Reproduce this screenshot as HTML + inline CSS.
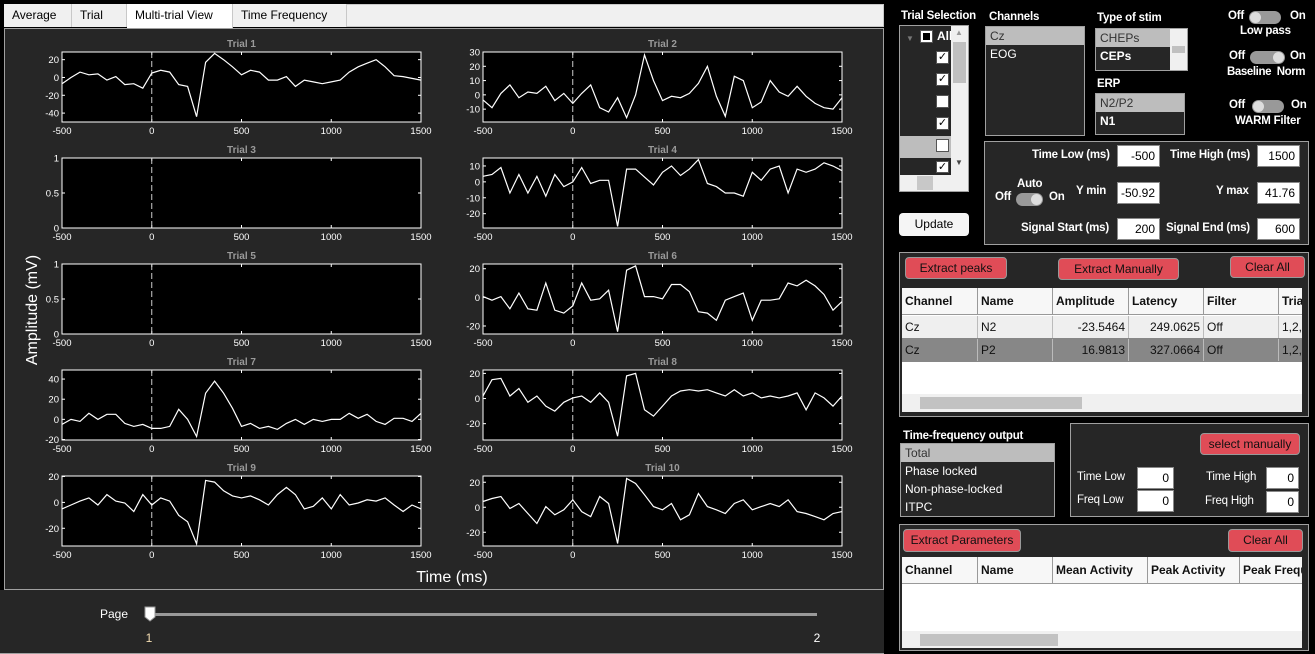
<!DOCTYPE html>
<html><head><meta charset="utf-8">
<style>
*{box-sizing:border-box;margin:0;padding:0}
body{width:1315px;height:654px;background:#000;position:relative;overflow:hidden;font-family:"Liberation Sans",Arial,sans-serif;font-size:12px;color:#fff}
.a{position:absolute}
.tab{position:absolute;top:4px;height:23px;background:#f0f0f0;border-right:1px solid #c8c8c8;color:#000;font-size:12px;line-height:23px;padding-left:8px}
.lb{position:absolute;background:#262626;border:1px solid #a0a0a0;overflow:hidden}
.row{position:absolute;left:0;right:0;height:18px;line-height:18px;padding-left:4px;font-size:12px;white-space:nowrap}
.sel{background:#bdbdbd;color:#333}
.lab{position:absolute;font-weight:bold;font-size:11.5px;color:#fff;white-space:nowrap;letter-spacing:-0.2px}
.tg{position:absolute;height:13px;border-radius:7px;background:#999}
.tg i{position:absolute;top:1px;width:11px;height:11px;border-radius:6px;background:#ddd}
.box{position:absolute;border:1px solid #a0a0a0;background:#262626}
.inp{position:absolute;background:#fff;color:#000;border:1px solid #888;text-align:right;padding-right:4px;font-size:12px;line-height:20px;height:22px}
.btn{position:absolute;background:#e04c57;color:#111;border:1px solid #999;border-radius:4px;text-align:center;font-size:12px;line-height:20px;white-space:nowrap}
.tbl{position:absolute;background:#fff;color:#111;overflow:hidden}
.th{position:absolute;top:0;height:27px;line-height:27px;background:#f7f7f7;border-right:1px solid #999;border-bottom:1px solid #999;padding-left:3px;font-weight:bold;font-size:12px;white-space:nowrap;overflow:hidden}
.td{position:absolute;height:22px;line-height:22px;border-right:1px solid #bbb;font-size:12px;padding:0 3px;white-space:nowrap;overflow:hidden}
.cb{position:absolute;width:13px;height:13px;background:#fff;border:1px solid #555;color:#000;font-size:11px;line-height:11px;text-align:center}
</style></head><body>
<div class="a" style="left:4px;top:4px;width:880px;height:23px;background:#f0f0f0;border:1px solid #c8c8c8"></div>
<div class="tab" style="left:4px;width:68px">Average</div>
<div class="tab" style="left:72px;width:55px">Trial</div>
<div class="tab" style="left:127px;width:106px;background:#fff;height:25px">Multi-trial View</div>
<div class="tab" style="left:233px;width:114px">Time Frequency</div>
<div class="a" style="left:4px;top:28px;width:880px;height:562px;background:#262626;border:1px solid #a0a0a0"></div>
<div class="a" style="left:0;top:590px;width:884px;height:64px;background:#262626;border-bottom:1px solid #a0a0a0"></div>

<svg class="a" style="left:0;top:0" width="884" height="654" id="chart" font-family="Liberation Sans, Arial, sans-serif">
<text x="37" y="310" fill="#fff" font-size="16" text-anchor="middle" transform="rotate(-90 37 310)">Amplitude (mV)</text>
<text x="452" y="582" fill="#fff" font-size="16" text-anchor="middle">Time (ms)</text>
<text x="114" y="618" fill="#fff" font-size="12" text-anchor="middle">Page</text>
<rect x="150" y="613" width="667" height="3" fill="#999"/>
<path d="M145 607 H155 V617 L150 621 L145 617 Z" fill="#fff" stroke="#999"/>
<text x="149" y="642" fill="#f5deb3" font-size="12" text-anchor="middle">1</text>
<text x="817" y="642" fill="#fff" font-size="12" text-anchor="middle">2</text>
</svg>

<div class="lab" style="left:901px;top:10px">Trial Selection</div>
<div class="lb" style="left:899px;top:25px;width:70px;height:167px">
  <div class="a" style="left:0;top:110px;width:52px;height:22px;background:#bdbdbd"></div>
  <div class="a" style="left:6px;top:8px;color:#777;font-size:8px">▼</div>
  <div class="a" style="left:20px;top:4px;width:13px;height:13px;background:#fff;border:1px solid #555"><div style="margin:2px;width:7px;height:7px;background:#000"></div></div>
  <div class="a" style="left:37px;top:3px;font-weight:bold">All</div>
</div>
<div class="a" style="left:951px;top:26px;width:17px;height:149px;background:#f0f0f0"></div>
<div class="a" style="left:953px;top:42px;width:13px;height:41px;background:#c0c0c0"></div>
<div class="a" style="left:955px;top:28px;color:#999;font-size:8px">▲</div>
<div class="a" style="left:955px;top:158px;color:#444;font-size:8px">▼</div>
<div class="a" style="left:900px;top:175px;width:68px;height:16px;background:#f0f0f0"></div>
<div class="a" style="left:917px;top:176px;width:16px;height:14px;background:#c8c8c8"></div>
<div class="cb" style="left:936px;top:51px">✓</div>
<div class="cb" style="left:936px;top:73px">✓</div>
<div class="cb" style="left:936px;top:95px"></div>
<div class="cb" style="left:936px;top:117px">✓</div>
<div class="cb" style="left:936px;top:139px"></div>
<div class="cb" style="left:936px;top:161px;height:12px">✓</div>
<div class="a" style="left:899px;top:213px;width:70px;height:23px;background:#f5f5f5;color:#000;border-radius:4px;text-align:center;line-height:23px">Update</div>

<div class="lab" style="left:989px;top:11px">Channels</div>
<div class="lb" style="left:985px;top:26px;width:100px;height:110px">
  <div class="row sel" style="top:0">Cz</div><div class="row" style="top:18px">EOG</div></div>

<div class="lab" style="left:1097px;top:12px">Type of stim</div>
<div class="lb" style="left:1095px;top:28px;width:93px;height:43px">
  <div class="row sel" style="top:0;right:17px">CHEPs</div><div class="row" style="top:18px;right:17px;font-weight:bold">CEPs</div>
  <div class="a" style="right:0;top:0;width:17px;height:43px;background:#f0f0f0"><div style="margin:17px 2px 0;height:7px;background:#c0c0c0"></div></div></div>
<div class="lab" style="left:1097px;top:78px">ERP</div>
<div class="lb" style="left:1095px;top:93px;width:90px;height:42px">
  <div class="row sel" style="top:0">N2/P2</div><div class="row" style="top:18px;font-weight:bold">N1</div></div>

<div class="lab" style="left:1228px;top:10px">Off</div>
<div class="tg" style="left:1249px;top:11px;width:32px"><i style="left:1px"></i></div>
<div class="lab" style="left:1290px;top:10px">On</div>
<div class="lab" style="left:1240px;top:25px">Low pass</div>
<div class="lab" style="left:1229px;top:50px">Off</div>
<div class="tg" style="left:1250px;top:51px;width:35px"><i style="right:1px"></i></div>
<div class="lab" style="left:1290px;top:50px">On</div>
<div class="lab" style="left:1227px;top:66px;letter-spacing:-0.4px">Baseline&nbsp; Norm</div>
<div class="lab" style="left:1229px;top:99px">Off</div>
<div class="tg" style="left:1252px;top:100px;width:32px"><i style="left:1px"></i></div>
<div class="lab" style="left:1291px;top:99px">On</div>
<div class="lab" style="left:1235px;top:115px">WARM Filter</div>

<div class="box" style="left:984px;top:141px;width:325px;height:104px"></div>
<div class="lab" style="left:1032px;top:149px">Time Low (ms)</div>
<div class="inp" style="left:1117px;top:145px;width:43px">-500</div>
<div class="lab" style="left:1170px;top:149px">Time High (ms)</div>
<div class="inp" style="left:1257px;top:145px;width:43px">1500</div>
<div class="lab" style="left:1017px;top:178px">Auto</div>
<div class="lab" style="left:995px;top:191px">Off</div>
<div class="tg" style="left:1016px;top:193px;width:27px"><i style="right:1px"></i></div>
<div class="lab" style="left:1049px;top:191px">On</div>
<div class="lab" style="left:1076px;top:185px">Y min</div>
<div class="inp" style="left:1117px;top:182px;width:43px">-50.92</div>
<div class="lab" style="left:1216px;top:185px">Y max</div>
<div class="inp" style="left:1257px;top:182px;width:43px">41.76</div>
<div class="lab" style="left:1021px;top:222px">Signal Start (ms)</div>
<div class="inp" style="left:1117px;top:218px;width:43px">200</div>
<div class="lab" style="left:1166px;top:222px">Signal End (ms)</div>
<div class="inp" style="left:1257px;top:218px;width:43px">600</div>

<div class="box" style="left:899px;top:252px;width:410px;height:165px"></div>
<div class="btn" style="left:905px;top:257px;width:102px;height:22px">Extract peaks</div>
<div class="btn" style="left:1058px;top:258px;width:121px;height:22px">Extract Manually</div>
<div class="btn" style="left:1230px;top:256px;width:75px;height:22px">Clear All</div>
<div class="tbl" style="left:902px;top:288px;width:400px;height:124px">
  <div class="th" style="left:0;width:76px">Channel</div><div class="th" style="left:76px;width:75px">Name</div><div class="th" style="left:151px;width:76px">Amplitude</div><div class="th" style="left:227px;width:75px">Latency</div><div class="th" style="left:302px;width:75px">Filter</div><div class="th" style="left:377px;width:40px">Trials</div>
  <div class="a" style="left:0;top:28px;width:400px;height:22px;background:#efefef"></div>
  <div class="a" style="left:0;top:50px;width:400px;height:24px;background:#878787"></div>
  <div class="td" style="left:0;top:28px;width:76px">Cz</div><div class="td" style="left:76px;top:28px;width:75px">N2</div><div class="td" style="left:151px;top:28px;width:76px;text-align:right">-23.5464</div><div class="td" style="left:227px;top:28px;width:75px;text-align:right">249.0625</div><div class="td" style="left:302px;top:28px;width:75px">Off</div><div class="td" style="left:377px;top:28px;width:40px">1,2,</div>
  <div class="td" style="left:0;top:51px;width:76px">Cz</div><div class="td" style="left:76px;top:51px;width:75px">P2</div><div class="td" style="left:151px;top:51px;width:76px;text-align:right">16.9813</div><div class="td" style="left:227px;top:51px;width:75px;text-align:right">327.0664</div><div class="td" style="left:302px;top:51px;width:75px">Off</div><div class="td" style="left:377px;top:51px;width:40px">1,2,</div>
  <div class="a" style="left:0;top:106px;width:400px;height:18px;background:#f0f0f0"><div class="a" style="left:18px;top:3px;width:162px;height:12px;background:#c2c2c2"></div></div>
</div>

<div class="lab" style="left:903px;top:430px">Time-frequency output</div>
<div class="lb" style="left:900px;top:443px;width:155px;height:74px">
  <div class="row sel" style="top:0">Total</div><div class="row" style="top:18px">Phase locked</div><div class="row" style="top:36px">Non-phase-locked</div><div class="row" style="top:54px">ITPC</div></div>
<div class="box" style="left:1070px;top:423px;width:239px;height:94px"></div>
<div class="btn" style="left:1200px;top:433px;width:100px;height:22px">select manually</div>
<div class="lab" style="left:1077px;top:471px;font-weight:normal">Time Low</div>
<div class="inp" style="left:1137px;top:467px;width:37px">0</div>
<div class="lab" style="left:1206px;top:471px;font-weight:normal">Time High</div>
<div class="inp" style="left:1266px;top:467px;width:33px">0</div>
<div class="lab" style="left:1077px;top:494px;font-weight:normal">Freq Low</div>
<div class="inp" style="left:1137px;top:490px;width:37px">0</div>
<div class="lab" style="left:1205px;top:495px;font-weight:normal">Freq High</div>
<div class="inp" style="left:1266px;top:491px;width:33px">0</div>

<div class="box" style="left:899px;top:524px;width:410px;height:127px"></div>
<div class="btn" style="left:903px;top:529px;width:118px;height:23px">Extract Parameters</div>
<div class="btn" style="left:1228px;top:529px;width:75px;height:23px">Clear All</div>
<div class="tbl" style="left:902px;top:557px;width:400px;height:91px">
  <div class="th" style="left:0;width:76px">Channel</div><div class="th" style="left:76px;width:75px">Name</div><div class="th" style="left:151px;width:95px">Mean Activity</div><div class="th" style="left:246px;width:92px">Peak Activity</div><div class="th" style="left:338px;width:90px">Peak Frequency</div>
  <div class="a" style="left:0;top:74px;width:400px;height:17px;background:#f0f0f0"><div class="a" style="left:18px;top:3px;width:138px;height:12px;background:#c2c2c2"></div></div>
</div>

<script>
const times = [-500,-450,-400,-350,-300,-250,-200,-150,-100,-50,0,50,100,150,200,250,300,350,400,450,500,550,600,650,700,750,800,850,900,950,1000,1050,1100,1150,1200,1250,1300,1350,1400,1450,1500];
const trial1 = [-7,0,6,3,4,-3,1,-8,-7,-12,5,8,6,-8,-10,-44,17,27,20,12,3,8,6,-3,-3,1,-10,-3,-5,-7,-5,-3,6,12,16,20,12,2,1,-1,-3];
const trial2 = [-3.5,-9,1,7,-2,2,1,6,-4,1,-6,1,7,-9,-12,-2,-16,0,28,10,-4,-1,-2,1,8,20,-1,-15,13,10,-9,-5,10,2,-1,6,-1,-6,-9,-10,-2];
const trial3 = [];
const trial4 = [3.5,4.6,9,-7,4.6,-7,3.5,-9,4.6,-3,0,9,-1,1,1,-28,8,8,3,-2,6,10,4,8,14,-1,-3,-7,-7,-9,6,1,8,10,-7,8,6,8,12,10,7];
const trial5 = [];
const trial6 = [0.5,-2,0.5,-8,3,-8,-9,10,-9,-11,-6,10,-2,-1,5,-24,19,22,0.5,0.5,-1,9,9,4,-10,-11,-16,-2,0.5,3,-16,-2,-2,-1,10,8,12,8,2,-9,-3];
const trial7 = [-5,0,-2,6,0,5,5,-4,-7,-5,-9,-9,-7,10,0,-17,26,38,26,11,-7,-4,-9,-7,-10,-4,0,-5,0,-2,0,0,6,1,5,-2,-5,1,1,-2,6];
const trial8 = [2,15,16,2,8,-3,2,-6,-10,-3,0.5,2,-3,4.5,-3,-30,18,20,-9,-14,-6,2,6,7,6,7,4.5,2,7,2,4.5,0.5,2,0.5,2,4.5,-9,4.5,0.5,-6,2];
const trial9 = [-5,-2,1,3.5,-2,6,1,-0.5,-7,6,-2,3.5,1,-10,-15,-32,17,15.7,9,5,3.5,5,2,-2,6,11.6,6,-5,-3,3.5,-5,6,-2,-0.5,2,1,3.5,-2,-7,-2,-5];
const trial10 = [4.6,7,8.6,-1,3,-5,-13,0.5,-6,-2,6,-3.5,-7.5,8.6,3,-29,23,19,10,0.5,-2,3,-10,-6,11,0.5,-2,-5,3,6,-2,0.5,3,0.5,6,-3.5,-5,-7.5,-10,-5,-3.5];
const trialNames = ["Trial 1","Trial 2","Trial 3","Trial 4","Trial 5","Trial 6","Trial 7","Trial 8","Trial 9","Trial 10"];
const yRanges = [[-50,28.6],[-19,30],[0,1],[-29,15],[0,1],[-25.6,23.3],[-20.5,49],[-33,22.7],[-33.7,20.4],[-31,25]];
const yTicks = [[-40,-20,0,20],[-10,0,10,20,30],[0,0.5,1],[-20,-10,0,10],[0,0.5,1],[-20,0,20],[-20,0,20,40],[-20,0,20],[-20,0,20],[-20,0,20]];
const xTicks = [-500,0,500,1000,1500];
const series = [trial1,trial2,trial3,trial4,trial5,trial6,trial7,trial8,trial9,trial10];

const NS = "http://www.w3.org/2000/svg";
const svg = document.getElementById("chart");
function mk(tag, attrs, parent){const e=document.createElementNS(NS,tag);for(const k in attrs)e.setAttribute(k,attrs[k]);(parent||svg).appendChild(e);return e;}
const colX = [62,483], W = 359, H = 70, rowY = [52,158,264,370,476];
series.forEach((data,i)=>{
  const x0 = colX[i%2], y0 = rowY[Math.floor(i/2)];
  const [ymin,ymax] = yRanges[i];
  const sx = t => x0 + (t+500)/2000*W;
  const sy = v => y0 + H - (v-ymin)/(ymax-ymin)*H;
  const g = mk("g",{});
  
  
  mk("rect",{x:x0,y:y0,width:W,height:H,fill:"#000",stroke:"#fff","stroke-width":1},g);
  const ttl = mk("text",{x:x0+W/2,y:y0-5,fill:"#9a9a9a","font-size":10,"font-weight":"bold","text-anchor":"middle"},g);
  ttl.textContent = trialNames[i];
  
  
  xTicks.forEach(t=>{
    mk("line",{x1:sx(t),x2:sx(t),y1:y0+H,y2:y0+H-3,stroke:"#fff"},g);
    mk("line",{x1:sx(t),x2:sx(t),y1:y0,y2:y0+3,stroke:"#fff"},g);
    const l = mk("text",{x:sx(t),y:y0+H+12,fill:"#fff","font-size":9.5,"text-anchor":"middle"},g);
    l.textContent = t;
    
    
  });
  yTicks[i].forEach(v=>{
    mk("line",{x1:x0,x2:x0+3,y1:sy(v),y2:sy(v),stroke:"#fff"},g);
    mk("line",{x1:x0+W,x2:x0+W-3,y1:sy(v),y2:sy(v),stroke:"#fff"},g);
    const l = mk("text",{x:x0-3,y:sy(v)+3.5,fill:"#fff","font-size":9.5,"text-anchor":"end"},g);
    l.textContent = v;
    
    
  });
  const z = mk("line",{x1:sx(0),x2:sx(0),y1:y0,y2:y0+H,stroke:"#ccc","stroke-dasharray":"6,3"},g);
  
  
  if(data.length){
    const d = data.map((v,k)=>(k?"L":"M")+sx(times[k]).toFixed(1)+" "+sy(v).toFixed(1)).join(" ");
    const p = mk("path",{d:d,fill:"none",stroke:"#fff","stroke-width":1.2},g);
    
    
  }
});
</script>
</body></html>
